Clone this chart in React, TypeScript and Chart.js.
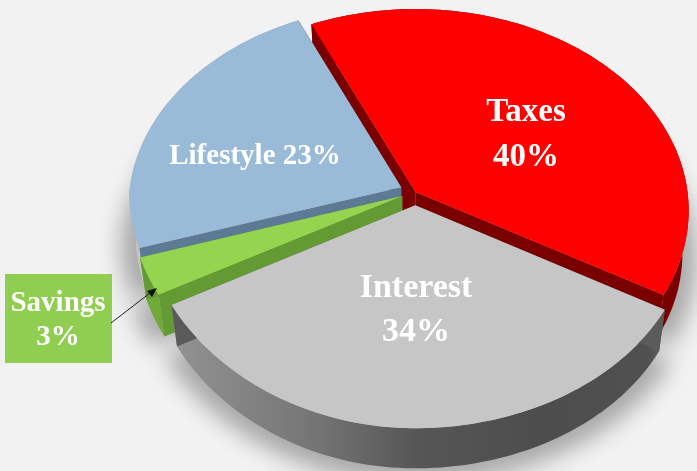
import React, { useEffect, useRef } from "react";
import { Chart, registerables } from "chart.js";

Chart.register(...registerables);

const categories = ["Taxes", "Interest", "Savings", "Lifestyle"];
const shares = [40, 34, 3, 23];
const topColors = ["#ff0000", "#c6c6c6", "#94d44f", "#9abbd8"];
const radialWallColors = ["#7a0000", "#5a5a5a", "#649a33", "#5c7a94"];
const outerWallColors = ["#7a0000", "#5a5a5a", "#70aa38", "#c4c4c4"];
const sliceOffsets = [0, 55, 44, 48];
const paintOrder = [0, 3, 2, 1];

const W = 697;
const H = 471;
const CX = 415.5;
const CY = 192;
const RX = 272;
const RY = 199.8;
const K = 0.092;

type P = [number, number];
const project = (u: number, v: number): P => {
  const w = 1 - K * v;
  const lean = 18 * Math.max(v, 0) * Math.max(-u, 0);
  return [CX + (RX * u) / w + lean, CY + (RY * v) / w];
};
const lower = ([x, y]: P): P => [CX + (x - CX) * 0.977, CY + (y - CY) * 0.988 + 43];
const shadowOf = ([x, y]: P): P => [CX + (x - CX) * 1.03, CY + (y - CY) * 1.03 + 48];

const trace = (ctx: CanvasRenderingContext2D, pts: P[]) => {
  ctx.beginPath();
  pts.forEach(([x, y], i) => (i ? ctx.lineTo(x, y) : ctx.moveTo(x, y)));
  ctx.closePath();
};

const sliceShape = (arc: any) => {
  const { startAngle: s, endAngle: e, outerRadius: r } = arc;
  const mid = (s + e) / 2;
  const off = (arc.options.offset || 0) / 4 / r;
  const ou = Math.cos(mid) * off;
  const ov = Math.sin(mid) * off;
  const n = Math.max(4, Math.ceil((e - s) * 40));
  const rim: P[] = [];
  for (let i = 0; i <= n; i++) {
    const a = s + ((e - s) * i) / n;
    rim.push(project(ou + Math.cos(a), ov + Math.sin(a)));
  }
  return { apex: project(ou, ov), rim };
};

const sliceLabels = [
  { lines: (i: number) => [categories[i], shares[i] + "%"], at: [526, 112], gap: 45, size: 33 },
  { lines: (i: number) => [categories[i], shares[i] + "%"], at: [416, 288], gap: 44, size: 34 },
  null,
  { lines: (i: number) => [categories[i] + " " + shares[i] + "%"], at: [255, 157], gap: 0, size: 29 },
];

const piePlugin = {
  id: "pie3d",
  beforeDraw(chart: any) {
    const ctx = chart.ctx as CanvasRenderingContext2D;
    ctx.save();
    ctx.fillStyle = "#f2f2f2";
    ctx.fillRect(0, 0, W, H);
    ctx.restore();
  },
  beforeDatasetsDraw(chart: any) {
    const ctx = chart.ctx as CanvasRenderingContext2D;
    const arcs = chart.getDatasetMeta(0).data;
    const shapes = arcs.map(sliceShape);

    ctx.save();
    ctx.filter = "blur(11px)";
    ctx.fillStyle = "#a8a8a8";
    ctx.beginPath();
    shapes.forEach((sh: any) => {
      [sh.apex, ...sh.rim].map(shadowOf).forEach(([x, y]: P, j: number) =>
        j ? ctx.lineTo(x, y) : ctx.moveTo(x, y)
      );
      ctx.closePath();
    });
    ctx.fill();
    ctx.restore();

    paintOrder.forEach((i) => {
      const { apex, rim } = shapes[i];
      const first = rim[0];
      const last = rim[rim.length - 1];
      ctx.save();
      if (i === 1) {
        const g = ctx.createLinearGradient(171, 0, 663, 0);
        g.addColorStop(0, "#939393");
        g.addColorStop(0.3, "#747474");
        g.addColorStop(0.5, "#565656");
        g.addColorStop(0.75, "#4d4d4d");
        g.addColorStop(0.97, "#505050");
        g.addColorStop(1, "#636363");
        ctx.fillStyle = g;
      } else {
        ctx.fillStyle = outerWallColors[i];
      }
      trace(ctx, [...rim, ...rim.map(lower).reverse()]);
      ctx.fill();

      ctx.fillStyle = radialWallColors[i];
      trace(ctx, [apex, first, lower(first), lower(apex)]);
      ctx.fill();
      if (i !== 3) {
        trace(ctx, [apex, last, lower(last), lower(apex)]);
        ctx.fill();
      } else {
        // only the part of the Lifestyle edge wall that Savings does not hide
        const a: P = [apex[0], apex[1] + 14];
        const b: P = [last[0], last[1] + 14];
        trace(ctx, [apex, last, b, a]);
        ctx.fill();
      }

      ctx.fillStyle = topColors[i];
      trace(ctx, [apex, ...rim]);
      ctx.fill();
      ctx.restore();
    });
    return false;
  },
  afterDraw(chart: any) {
    const ctx = chart.ctx as CanvasRenderingContext2D;
    ctx.save();
    ctx.textAlign = "center";
    ctx.textBaseline = "middle";
    ctx.fillStyle = "#ffffff";
    sliceLabels.forEach((l, i) => {
      if (!l) return;
      ctx.font = `bold ${l.size}px "Liberation Serif", serif`;
      l.lines(i).forEach((t, j) => ctx.fillText(t, l.at[0], l.at[1] + j * l.gap));
    });

    ctx.fillStyle = "#8fce50";
    ctx.fillRect(5, 274, 107, 89);
    ctx.fillStyle = "#ffffff";
    ctx.font = `bold 29px "Liberation Serif", serif`;
    ctx.fillText(categories[2], 58, 304);
    ctx.fillText(shares[2] + "%", 58, 338);

    ctx.strokeStyle = "#222222";
    ctx.lineWidth = 1;
    ctx.beginPath();
    ctx.moveTo(111, 323);
    ctx.lineTo(150, 293);
    ctx.stroke();
    ctx.fillStyle = "#111111";
    ctx.beginPath();
    ctx.moveTo(157, 288);
    ctx.lineTo(147, 291);
    ctx.lineTo(152, 297);
    ctx.closePath();
    ctx.fill();
    ctx.restore();
  },
};

export default function App() {
  const ref = useRef<HTMLCanvasElement>(null);
  useEffect(() => {
    document.body.style.margin = "0";
    document.body.style.background = "#f2f2f2";
    const chart = new Chart(ref.current!, {
      type: "pie",
      data: {
        labels: categories,
        datasets: [
          {
            data: shares,
            backgroundColor: topColors,
            borderWidth: 0,
            offset: sliceOffsets,
          } as any,
        ],
      },
      options: {
        responsive: false,
        animation: false,
        rotation: -24.5,
        events: [],
        plugins: { legend: { display: false }, tooltip: { enabled: false } },
      },
      plugins: [piePlugin as any],
    });
    return () => chart.destroy();
  }, []);
  return <canvas ref={ref} width={W} height={H} style={{ display: "block", width: W, height: H }} />;
}
